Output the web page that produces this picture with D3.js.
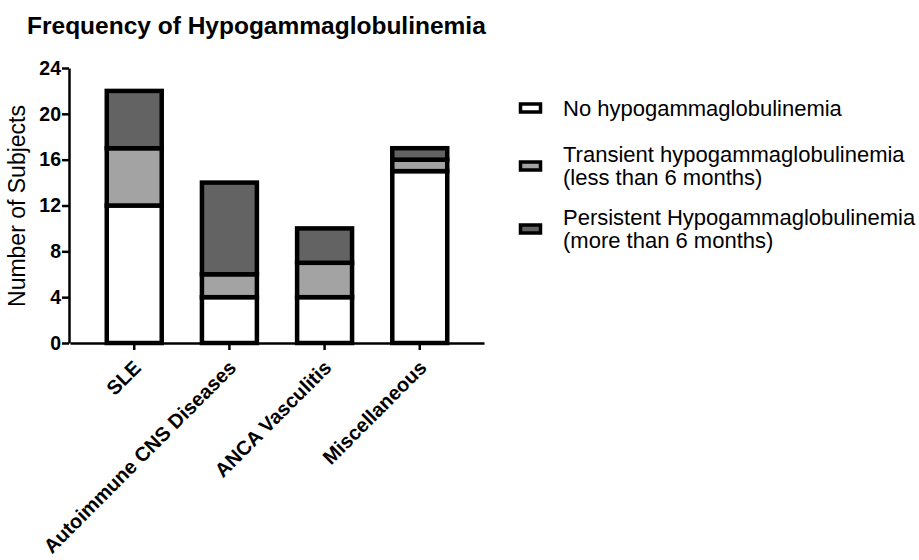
<!DOCTYPE html>
<html lang="en">
<head>
  <meta charset="UTF-8">
  <title>Frequency of Hypogammaglobulinemia</title>
  <script src="https://cdn.jsdelivr.net/npm/d3@7"></script>
  <style>
    body { margin: 0; background: #fff; }
    text { font-family: Arial, "Liberation Sans", sans-serif; }
  </style>
</head>
<body>
<script>
  // data
  var categories = ["SLE", "Autoimmune CNS Diseases", "ANCA Vasculitis", "Miscellaneous"];
  var noHypo = [12, 4, 4, 15];
  var transient = [5, 2, 3, 1];
  var persistent = [5, 8, 3, 1];
  var seriesNames = ["No hypogammaglobulinemia", "Transient hypogammaglobulinemia\n(less than 6 months)", "Persistent Hypogammaglobulinemia\n(more than 6 months)"];
  var seriesColors = ["#ffffff", "#a3a3a3", "#636363"];
  var yTicks = [0, 4, 8, 12, 16, 20, 24];

  var width = 919, height = 560;
  var svg = d3.select("body").append("svg")
    .attr("width", width)
    .attr("height", height);

  var rows = categories.map(function(c, i) {
    return { cat: c, no: noHypo[i], tr: transient[i], pe: persistent[i] };
  });
  var stack = d3.stack().keys(["no", "tr", "pe"])(rows);

  var x = d3.scaleBand().domain(categories).range([70, 484]).paddingInner(0.37).paddingOuter(0.36);
  var y = d3.scaleLinear().domain([0, 24]).range([343, 68]);

  // title
  svg.append("text")
    .attr("x", 27).attr("y", 34)
    .attr("font-size", 24.5).attr("font-weight", "bold")
    .text("Frequency of Hypogammaglobulinemia");

  // bars
  var layers = svg.selectAll("g.layer")
    .data(stack)
    .enter().append("g")
    .attr("class", "layer")
    .attr("fill", function(d, i) { return seriesColors[i]; });

  layers.selectAll("rect")
    .data(function(d) { return d; })
    .enter().append("rect")
    .attr("x", function(d) { return x(d.data.cat) + 2.5; })
    .attr("width", x.bandwidth() - 5)
    .attr("y", function(d) { return y(d[1]); })
    .attr("height", function(d) { return y(d[0]) - y(d[1]); })
    .attr("stroke", "#000")
    .attr("stroke-width", 4.5);

  // y axis
  var yAxis = svg.append("g")
    .attr("transform", "translate(69,0)")
    .call(d3.axisLeft(y).tickValues(yTicks).tickSize(7).tickSizeOuter(0));
  yAxis.select(".domain").attr("stroke-width", 2.5);
  yAxis.selectAll(".tick line").attr("stroke-width", 2.5);
  yAxis.selectAll(".tick text")
    .attr("font-size", 19.5).attr("font-weight", "bold")
    .attr("font-family", "Arial, 'Liberation Sans', sans-serif")
    .attr("fill", "#000").attr("x", -8);

  // x axis
  var xAxis = svg.append("g")
    .attr("transform", "translate(0,343)")
    .call(d3.axisBottom(x).tickSize(7).tickSizeOuter(0));
  xAxis.select(".domain").attr("stroke-width", 2.5);
  xAxis.selectAll(".tick line").attr("stroke-width", 2.5);
  xAxis.selectAll(".tick text")
    .attr("font-size", 20).attr("font-weight", "bold")
    .attr("font-family", "Arial, 'Liberation Sans', sans-serif")
    .attr("fill", "#000")
    .attr("text-anchor", "end")
    .attr("dy", null).attr("y", 0)
    .attr("transform", "translate(8,26) rotate(-45)");

  // y label
  svg.append("text")
    .attr("transform", "translate(25,206) rotate(-90)")
    .attr("text-anchor", "middle")
    .attr("font-size", 23)
    .text("Number of Subjects");

  // legend
  var legendY = [108, 166, 229];
  var legend = svg.selectAll("g.legend")
    .data(seriesNames)
    .enter().append("g")
    .attr("class", "legend")
    .attr("transform", function(d, i) { return "translate(519," + legendY[i] + ")"; });

  legend.append("rect")
    .attr("x", 1.5).attr("y", -4)
    .attr("width", 20).attr("height", 8)
    .attr("fill", function(d, i) { return seriesColors[i]; })
    .attr("stroke", "#000").attr("stroke-width", 3.5);

  legend.each(function(d) {
    var lines = d.split("\n");
    var t = d3.select(this).append("text")
      .attr("x", 44)
      .attr("font-size", 22);
    lines.forEach(function(l, j) {
      t.append("tspan")
        .attr("x", 44)
        .attr("y", (j - (lines.length - 1) / 2) * 23 + 7.5)
        .text(l);
    });
  });
</script>
</body>
</html>
